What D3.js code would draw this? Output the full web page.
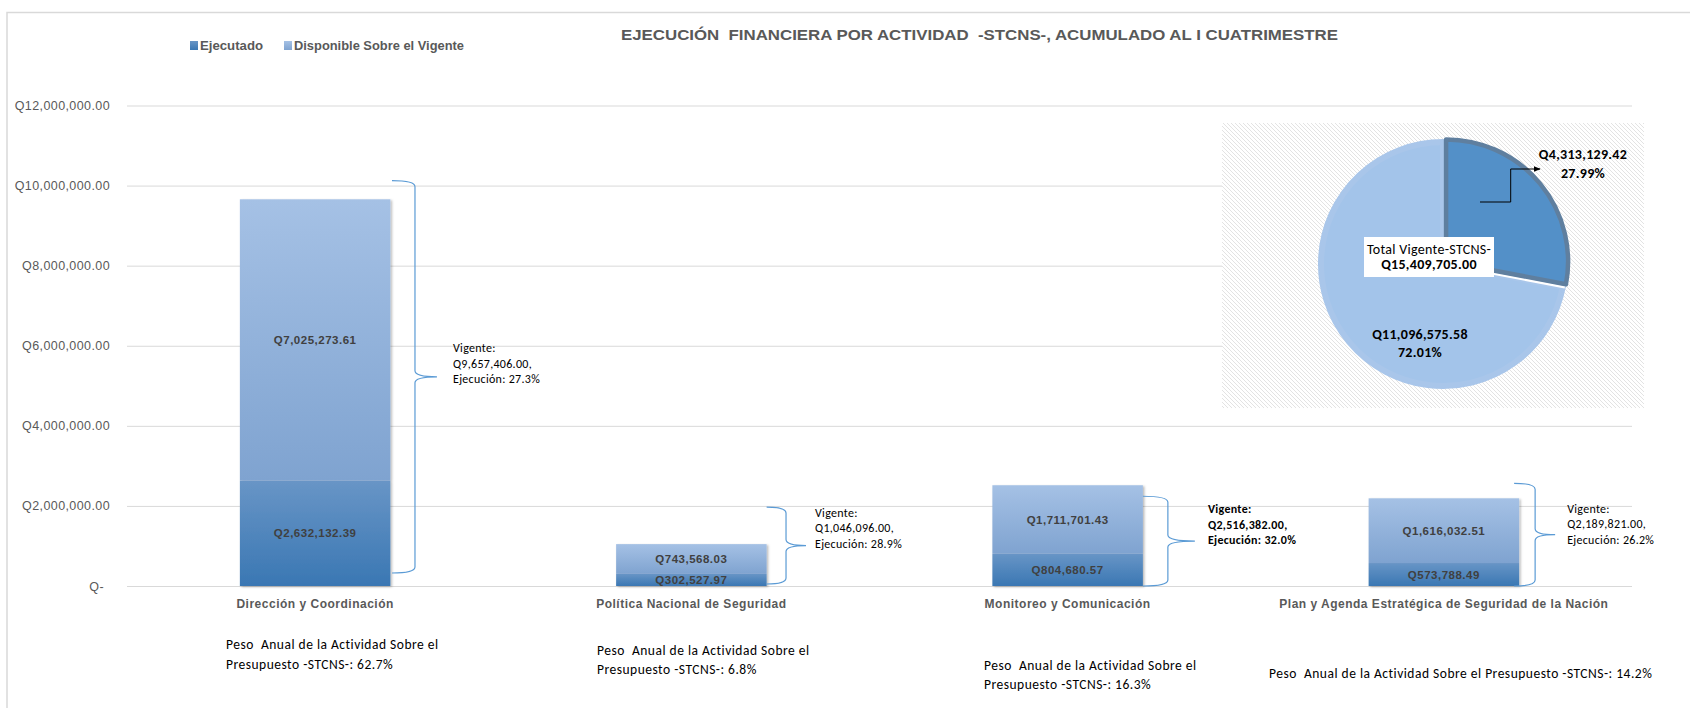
<!DOCTYPE html>
<html>
<head>
<meta charset="utf-8">
<title>Ejecución financiera por actividad -STCNS-</title>
<script src="https://d3js.org/d3.v7.min.js"></script>
<style>
  body { margin: 0; background: #fff; }
  text { white-space: pre; }
</style>
</head>
<body>
<div id="chart"></div>
<script>
// data
const activities = ["Dirección y Coordinación", "Política Nacional de Seguridad", "Monitoreo y Comunicación", "Plan y Agenda Estratégica de Seguridad de la Nación"];
const ejecutado = [2632132.39, 302527.97, 804680.57, 573788.49];
const disponible = [7025273.61, 743568.03, 1711701.43, 1616032.51];
const seriesNames = ["Ejecutado", "Disponible Sobre el Vigente"];
const yTicks = [0, 2000000, 4000000, 6000000, 8000000, 10000000, 12000000];
const titleText = "EJECUCIÓN  FINANCIERA POR ACTIVIDAD  -STCNS-, ACUMULADO AL I CUATRIMESTRE";

const W = 1690, H = 708;
const plot = { left: 127, right: 1632, top: 105.5, bottom: 586 };
const arialFont = "'Liberation Sans', Arial, sans-serif";
const calibriFont = "Carlito, Calibri, Lato, sans-serif";

const svg = d3.select("#chart").append("svg")
    .attr("width", W).attr("height", H)
    .style("display", "block");

svg.append("rect").attr("width", W).attr("height", H).attr("fill", "#fff");

const defs = svg.append("defs");
function vGrad(id, top, bottom) {
    const g = defs.append("linearGradient").attr("id", id)
        .attr("x1", 0).attr("y1", 0).attr("x2", 0).attr("y2", 1);
    g.append("stop").attr("offset", "0%").attr("stop-color", top);
    g.append("stop").attr("offset", "100%").attr("stop-color", bottom);
}
vGrad("g-ejec", "#6895c6", "#3a77b3");
vGrad("g-disp", "#a5c1e5", "#7fa3d0");

const shadow = defs.append("filter").attr("id", "barShadow")
    .attr("x", "-10%").attr("y", "-10%").attr("width", "130%").attr("height", "130%");
shadow.append("feDropShadow").attr("dx", 1.5).attr("dy", 1).attr("stdDeviation", 1.2)
    .attr("flood-color", "#000").attr("flood-opacity", 0.28);

const hatch = defs.append("pattern").attr("id", "hatch")
    .attr("width", 4).attr("height", 4).attr("patternUnits", "userSpaceOnUse");
hatch.append("rect").attr("width", 4).attr("height", 4).attr("fill", "#fff");
hatch.append("path").attr("d", "M-1,-1L5,5M-1,3L1,5M3,-1L5,1")
    .attr("stroke", "#e3e3e3").attr("stroke-width", 1);

defs.append("marker").attr("id", "arrow").attr("viewBox", "0 0 10 10")
    .attr("refX", 9).attr("refY", 5).attr("markerWidth", 7).attr("markerHeight", 7)
    .attr("orient", "auto")
    .append("path").attr("d", "M0,1L10,5L0,9Z").attr("fill", "#000");

// chart frame
svg.append("path").attr("d", `M7,${H}V12.5H${W}`)
    .attr("fill", "none").attr("stroke", "#d9d9d9").attr("stroke-width", 1.5);

// title
svg.append("text")
    .attr("x", 621).attr("y", 40)
    .attr("textLength", 717).attr("lengthAdjust", "spacingAndGlyphs")
    .style("font-family", arialFont).style("font-size", "15px").style("font-weight", "bold")
    .attr("fill", "#595959")
    .text(titleText);

// legend
const legendItems = [
    { name: seriesNames[0], fill: "url(#g-ejec)", x: 190, w: 63 },
    { name: seriesNames[1], fill: "url(#g-disp)", x: 284, w: 170 }
];
legendItems.forEach(d => {
    svg.append("rect").attr("x", d.x).attr("y", 41).attr("width", 8).attr("height", 9).attr("fill", d.fill);
    svg.append("text").attr("x", d.x + 10).attr("y", 49.5)
        .attr("textLength", d.w).attr("lengthAdjust", "spacingAndGlyphs")
        .style("font-family", arialFont).style("font-size", "12px").style("font-weight", "bold")
        .attr("fill", "#595959").text(d.name);
});

// scales
const x = d3.scaleBand().domain(activities)
    .range([plot.left, plot.right]).paddingInner(0.6).paddingOuter(0.3);
const y = d3.scaleLinear().domain([0, 12000000]).range([plot.bottom, plot.top]);

const money = d3.format(",.2f");
const fmtAxis = v => v === 0 ? "Q-" : "Q" + money(v);

// y axis with gridlines
const yAxis = svg.append("g")
    .attr("transform", `translate(${plot.left},0)`)
    .call(d3.axisLeft(y).tickValues(yTicks).tickSize(-(plot.right - plot.left)).tickPadding(17).tickFormat(fmtAxis));
yAxis.select(".domain").remove();
yAxis.selectAll("line").attr("stroke", "#d9d9d9").attr("stroke-width", 1);
yAxis.selectAll("text")
    .attr("fill", "#595959")
    .style("font-family", arialFont).style("font-size", "12.5px").style("letter-spacing", "0.4px")
    .attr("dx", d => d === 0 ? -6 : 0);

// stacked bars
const rows = activities.map((a, i) => ({ activity: a, Ejecutado: ejecutado[i], Disponible: disponible[i] }));
const stack = d3.stack().keys(["Ejecutado", "Disponible"])(rows);
const fills = { Ejecutado: "url(#g-ejec)", Disponible: "url(#g-disp)" };

const barGroups = svg.append("g").selectAll("g")
    .data(rows).enter().append("g")
    .attr("filter", "url(#barShadow)");

barGroups.selectAll("rect")
    .data((d, i) => stack.map(s => ({ key: s.key, activity: d.activity, y0: s[i][0], y1: s[i][1] })))
    .enter().append("rect")
    .attr("x", d => x(d.activity))
    .attr("width", x.bandwidth())
    .attr("y", d => y(d.y1))
    .attr("height", d => y(d.y0) - y(d.y1))
    .attr("fill", d => fills[d.key]);

// data labels
stack.forEach(s => {
    svg.append("g").selectAll("text")
        .data(s).enter().append("text")
        .attr("x", d => x(d.data.activity) + x.bandwidth() / 2)
        .attr("y", d => (y(d[0]) + y(d[1])) / 2)
        .attr("dy", "0.36em")
        .attr("text-anchor", "middle")
        .style("font-family", arialFont).style("font-size", "11.5px").style("font-weight", "bold")
        .style("letter-spacing", "0.5px")
        .attr("fill", "#404040")
        .text(d => "Q" + money(d[1] - d[0]));
});

// category labels
svg.append("g").selectAll("text")
    .data(activities).enter().append("text")
    .attr("x", d => x(d) + x.bandwidth() / 2)
    .attr("y", 608)
    .attr("text-anchor", "middle")
    .style("font-family", arialFont).style("font-size", "12px").style("font-weight", "bold")
    .style("letter-spacing", "0.5px")
    .attr("fill", "#595959")
    .text(d => d);

// brace annotations (Vigente / Ejecución)
const braceLayout = [
    { x0: 1.6, x1: 24.6, tip: 46.6, tx: 62.6, top: -18.6, bot: -13, dy: -29, bold: false },
    { x0: 0, x1: 19.4, tip: 39.4, tx: 48.4, top: -37, bot: -2, dy: -33, bold: false },
    { x0: 0, x1: 25, tip: 52, tx: 65, top: 11, bot: 0, dy: -32, bold: true },
    { x0: -5, x1: 16, tip: 36, tx: 48, top: -15, bot: 0, dy: -26, bold: false }
];
rows.forEach((r, i) => {
    const L = braceLayout[i];
    const total = r.Ejecutado + r.Disponible;
    const right = x(r.activity) + x.bandwidth();
    const x0 = right + L.x0, x1 = right + L.x1, tx = right + L.tip;
    const top = y(total) + L.top, bot = y(0) + L.bot;
    const mid = (top + bot) / 2, rr = 6;
    const path = `M${x0},${top}Q${x1},${top} ${x1},${top + rr}L${x1},${mid - rr}Q${x1},${mid} ${tx},${mid}` +
        `Q${x1},${mid} ${x1},${mid + rr}L${x1},${bot - rr}Q${x1},${bot} ${x0},${bot}`;
    svg.append("path").attr("d", path).attr("fill", "none")
        .attr("stroke", "#5b9bd5").attr("stroke-width", 1.2);
    const lines = ["Vigente:", "Q" + money(total) + ",", "Ejecución: " + (r.Ejecutado / total * 100).toFixed(1) + "%"];
    const t = svg.append("text")
        .style("font-family", calibriFont).style("font-size", "12px")
        .style("letter-spacing", "0.3px")
        .style("font-weight", L.bold ? "bold" : "normal")
        .attr("fill", "#000");
    lines.forEach((ln, k) => {
        t.append("tspan").attr("x", right + L.tx).attr("y", mid + L.dy + k * 15.5 + 4.3).text(ln);
    });
});

// weight notes under each category
const grandTotal = d3.sum(ejecutado) + d3.sum(disponible);
const noteLayout = [
    { x: 226, y: 644.5, oneLine: false },
    { x: 597, y: 650, oneLine: false },
    { x: 984, y: 665, oneLine: false },
    { x: 1269, y: 673.6, oneLine: true }
];
rows.forEach((r, i) => {
    const L = noteLayout[i];
    const pct = ((r.Ejecutado + r.Disponible) / grandTotal * 100).toFixed(1) + "%";
    const lines = L.oneLine
        ? ["Peso  Anual de la Actividad Sobre el Presupuesto -STCNS-: " + pct]
        : ["Peso  Anual de la Actividad Sobre el", "Presupuesto -STCNS-: " + pct];
    const t = svg.append("text")
        .style("font-family", calibriFont).style("font-size", "13.5px")
        .style("letter-spacing", "0.5px")
        .attr("fill", "#000");
    lines.forEach((ln, k) => {
        t.append("tspan").attr("x", L.x).attr("y", L.y + k * 19.5 + 4.8).text(ln);
    });
});

// pie inset
const pieBox = { x: 1222, y: 123, w: 422, h: 285 };
svg.append("rect").attr("x", pieBox.x).attr("y", pieBox.y)
    .attr("width", pieBox.w).attr("height", pieBox.h).attr("fill", "url(#hatch)");

const pc = { x: 1443, y: 264, r: 122 };
const totEjec = d3.sum(ejecutado), totDisp = d3.sum(disponible);
const pieData = d3.pie().sort(null).value(d => d.value)([
    { key: "Ejecutado", value: totEjec },
    { key: "Disponible", value: totDisp }
]);
const arc = d3.arc().innerRadius(0).outerRadius(pc.r);

function strokeGrad(id, c1, c2) {
    const g = defs.append("linearGradient").attr("id", id)
        .attr("gradientUnits", "userSpaceOnUse")
        .attr("x1", pc.x - pc.r).attr("y1", pc.y - pc.r)
        .attr("x2", pc.x + pc.r * 0.6).attr("y2", pc.y + pc.r);
    g.append("stop").attr("offset", "0%").attr("stop-color", c1);
    g.append("stop").attr("offset", "100%").attr("stop-color", c2);
}
strokeGrad("s-disp", "#a9c6ea", "#4c6078");
strokeGrad("s-ejec", "#5f7f9f", "#1f4268");

const pieG = svg.append("g").attr("transform", `translate(${pc.x},${pc.y})`);
const dispSlice = pieData[1], ejecSlice = pieData[0];
pieG.append("path").attr("d", arc(dispSlice))
    .attr("fill", "#a3c4ea").attr("stroke", "url(#s-disp)").attr("stroke-width", 6)
    .attr("stroke-linejoin", "round");
// white separator on lower boundary
const bA = ejecSlice.endAngle;
pieG.append("line").attr("x1", 0).attr("y1", 0)
    .attr("x2", Math.sin(bA) * (pc.r + 2)).attr("y2", -Math.cos(bA) * (pc.r + 2))
    .attr("stroke", "#fff").attr("stroke-width", 2.5);
const midA = (ejecSlice.startAngle + ejecSlice.endAngle) / 2, ex = 4;
pieG.append("path").attr("d", arc(ejecSlice))
    .attr("transform", `translate(${Math.sin(midA) * ex},${-Math.cos(midA) * ex})`)
    .attr("fill", "#5390c8").attr("stroke", "url(#s-ejec)").attr("stroke-width", 4.5)
    .attr("stroke-linejoin", "round");

// leader line to the Ejecutado label
svg.append("path").attr("d", "M1480,202H1510.7V169H1540")
    .attr("fill", "none").attr("stroke", "#000").attr("stroke-width", 1)
    .attr("marker-end", "url(#arrow)");

function pieLabel(cx, cy, lines, weights, size) {
    const t = svg.append("text").attr("text-anchor", "middle")
        .style("font-family", calibriFont).style("font-size", size + "px")
        .style("letter-spacing", "0.3px").attr("fill", "#000");
    lines.forEach((ln, k) => {
        t.append("tspan").attr("x", cx).attr("y", cy[k] + size * 0.36)
            .style("font-weight", weights[k]).text(ln);
    });
}
const pctFmt = v => (v * 100).toFixed(2) + "%";
pieLabel(1583, [154.3, 173], ["Q" + money(totEjec), pctFmt(totEjec / (totEjec + totDisp))], ["bold", "bold"], 14);
pieLabel(1420, [334.3, 352.3], ["Q" + money(totDisp), pctFmt(totDisp / (totEjec + totDisp))], ["bold", "bold"], 14);

svg.append("rect").attr("x", 1364).attr("y", 237).attr("width", 130).attr("height", 40).attr("fill", "#fff");
pieLabel(1429, [249.3, 264], ["Total Vigente-STCNS-", "Q" + money(totEjec + totDisp)], ["normal", "bold"], 14);
</script>
</body>
</html>
